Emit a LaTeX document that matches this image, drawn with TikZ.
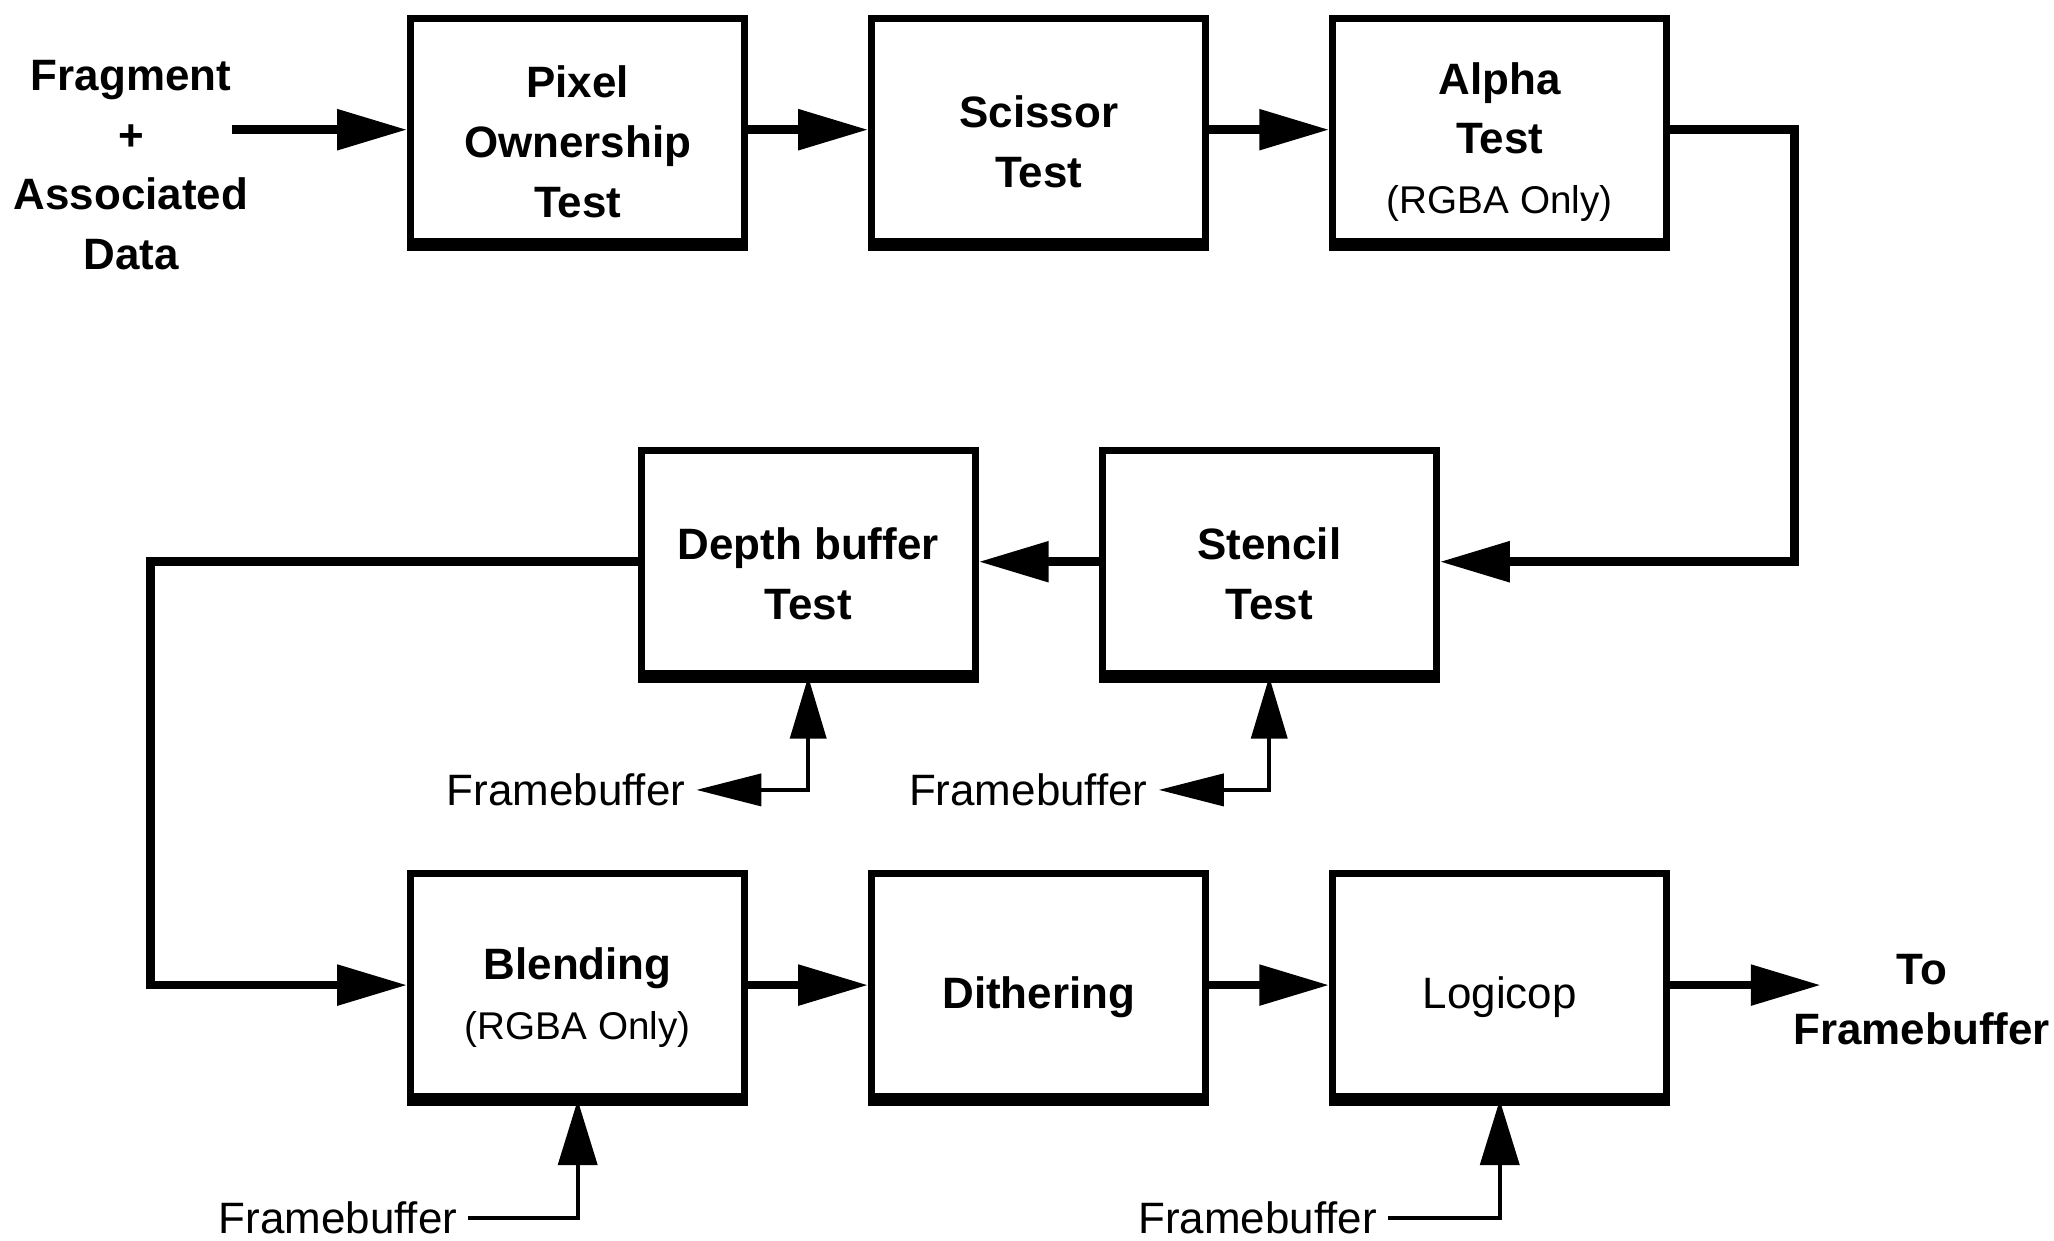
\documentclass[tikz,border=0pt]{standalone}
\usepackage{fontspec}
\setmainfont{Liberation Sans}
\usepackage{tikz}
\usetikzlibrary{calc,arrows.meta}
\usetikzlibrary{positioning}

\newcommand{\rgbanote}[1]{{\mdseries\fontsize{11}{15}\selectfont #1}}
\newcommand{\lift}{\rule{0pt}{16pt}}

\begin{document}
\begin{tikzpicture}[x=0.131mm, y=-0.131mm,
    stage/.style={rectangle, draw=black, line width=2pt, minimum width=33.4mm, minimum height=22.3mm, align=center, inner sep=2pt, font=\fontsize{12.5}{17}\selectfont\bfseries},
    caption/.style={align=center, inner sep=3pt, font=\fontsize{12.5}{17}\selectfont},
    flow/.style={draw, line width=2.5pt, -{Triangle[length=7mm,width=3.9mm]}},
    fbpath/.style={draw, line width=1.1pt},
    every node/.style={node distance=20.2mm and 12.0mm}
    ]
    \useasboundingbox (0,0) rectangle (1568,947);

    % first row
    \node[stage] (pixel) at (441,99) {\lift Pixel\\Ownership\\Test};
    \node[stage, right=of pixel] (scissor) {\lift Scissor\\Test};
    \node[stage, right=of scissor] (alpha) {\lift Alpha\\Test\\\rgbanote{(RGBA Only)}};

    % second row, half a step to the right
    \coordinate (mid) at ($(pixel.south)!0.5!(scissor.south)$);
    \node[stage, below=of mid] (depth) {\lift Depth buffer\\Test};
    \node[stage, right=of depth] (stencil) {\lift Stencil\\Test};

    % third row
    \node[stage] (blend) at (441,752) {\lift Blending\\\rgbanote{(RGBA Only)}};
    \node[stage, right=of blend] (dither) {\lift Dithering};
    \node[stage, right=of dither] (logic) {\lift\mdseries Logicop};

    % texts outside the boxes
    \node[caption, font=\fontsize{12.5}{17}\selectfont\bfseries] (frag) at (100,126) {Fragment\\+\\Associated\\Data};
    \node[caption, font=\fontsize{12.5}{17}\selectfont\bfseries] (tofb) at (1467,763) {To\\Framebuffer};
    \node[caption] (fbdepth) at (432,603) {Framebuffer};
    \node[caption] (fbstencil) at (785,603) {Framebuffer};
    \node[caption] (fbblend) at (258,930) {Framebuffer};
    \node[caption] (fblogic) at (960,930) {Framebuffer};

    \coordinate (fragout) at (177,99);
    \coordinate (fbout) at (1390,752);

    % heavier lower edges
    \foreach \n in {pixel,scissor,alpha,depth,stencil,blend,dither,logic}
        \draw[line width=3.4pt] (\n.south west) -- (\n.south east);

    % pipeline
    \draw[flow] (fragout) -- (pixel);
    \draw[flow] (pixel) -- (scissor);
    \draw[flow] (scissor) -- (alpha);
    \draw[flow] (alpha.east) -- ++(95,0) |- (stencil.east);
    \draw[flow] (stencil) -- (depth);
    \draw[flow] (depth.west) -- ++(-372,0) |- (blend.west);
    \draw[flow] (blend) -- (dither);
    \draw[flow] (dither) -- (logic);
    \draw[flow] (logic) -- (fbout);

    % framebuffer reads
    \draw[fbpath, {Triangle[length=6.5mm,width=3.2mm]}-{Triangle[length=6.2mm,width=3.6mm]}] (fbdepth.east) -| (depth.south);
    \draw[fbpath, {Triangle[length=6.5mm,width=3.2mm]}-{Triangle[length=6.2mm,width=3.6mm]}] (fbstencil.east) -| (stencil.south);
    \draw[fbpath, -{Triangle[length=6.5mm,width=3.9mm]}] (fbblend.east) -| (blend.south);
    \draw[fbpath, -{Triangle[length=6.5mm,width=3.9mm]}] (fblogic.east) -| (logic.south);
\end{tikzpicture}
\end{document}
